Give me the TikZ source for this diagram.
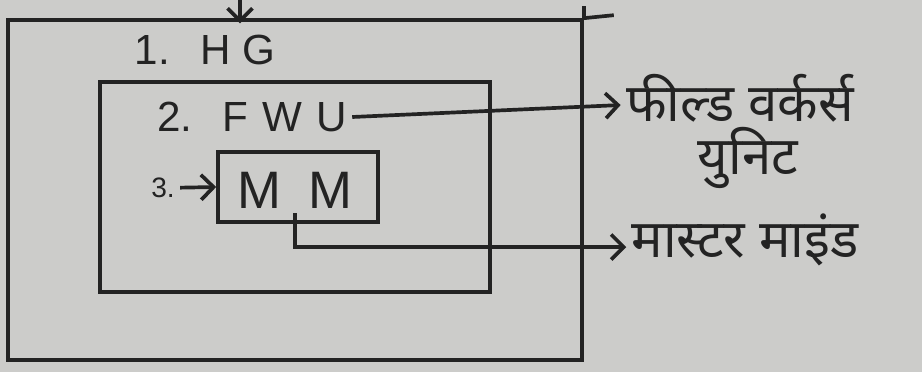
\documentclass[tikz,border=0pt]{standalone}
\usepackage{fontspec}
\newfontfamily\hindifont[Script=Devanagari]{Noto Sans}
\newfontfamily\latinfont{Liberation Sans}
\usepackage{tikz}
\usetikzlibrary{positioning,arrows.meta}
\definecolor{paper}{RGB}{204,204,202}
\definecolor{ink}{RGB}{35,35,35}

\begin{document}
\begin{tikzpicture}[x=0.02cm, y=-0.02cm, >={Straight Barb[length=2.5mm,width=5mm]}, line width=2.1pt, draw=ink, text=ink, box/.style={draw, rectangle, inner sep=0pt}, lab/.style={font=\latinfont\fontsize{24}{28}\selectfont, inner sep=2pt}, hin/.style={font=\hindifont\fontsize{30}{34}\selectfont, inner sep=2pt}]

\useasboundingbox (0,0) rectangle (922,372);
\fill[paper] (0,0) rectangle (922,372);

% boxes
\node[box, minimum width=11.48cm, minimum height=6.8cm] (hg) at (295,190) {};
\node[box, minimum width=7.8cm, minimum height=4.2cm] (fwu) at (295,187) {};
\node[box, minimum width=3.2cm, minimum height=1.4cm] (mm) at (298,187) {};

% labels
\node[lab] (hglabel) at (205,50) {1.\ \ \,H\ G};
\node[lab] (fwulabel) at (252,117) {2.\ \ \,F\,\,W\,\,U};
\node[lab, font=\latinfont\fontsize{30}{34}\selectfont] (mmlabel) at (295,190) {M\,\,\,M};
\node[lab, font=\latinfont\fontsize{16}{20}\selectfont] (three) at (163,188) {3.};
\node[hin] (fieldworkers) at (740,98) {फील्ड वर्कर्स};
\node[hin] (unit) at (748,158) {युनिट};
\node[hin] (mastermind) at (745,240) {मास्टर माइंड};

% connectors
\coordinate (topin) at (240,0);
\draw[->] (topin) -- ([yshift=-3pt]topin |- hg.north);
\draw (hg.north east) -- ++(30,-3);
\draw (hg.north east) -- ++(0,-12);
\draw[->] (three) -- (mm.west);
\draw[->] (fwulabel.east) -- ([yshift=-4pt]fieldworkers.west);
\draw[->] (mmlabel.south) |- ([yshift=-4pt]mastermind.west);
\end{tikzpicture}
\end{document}
